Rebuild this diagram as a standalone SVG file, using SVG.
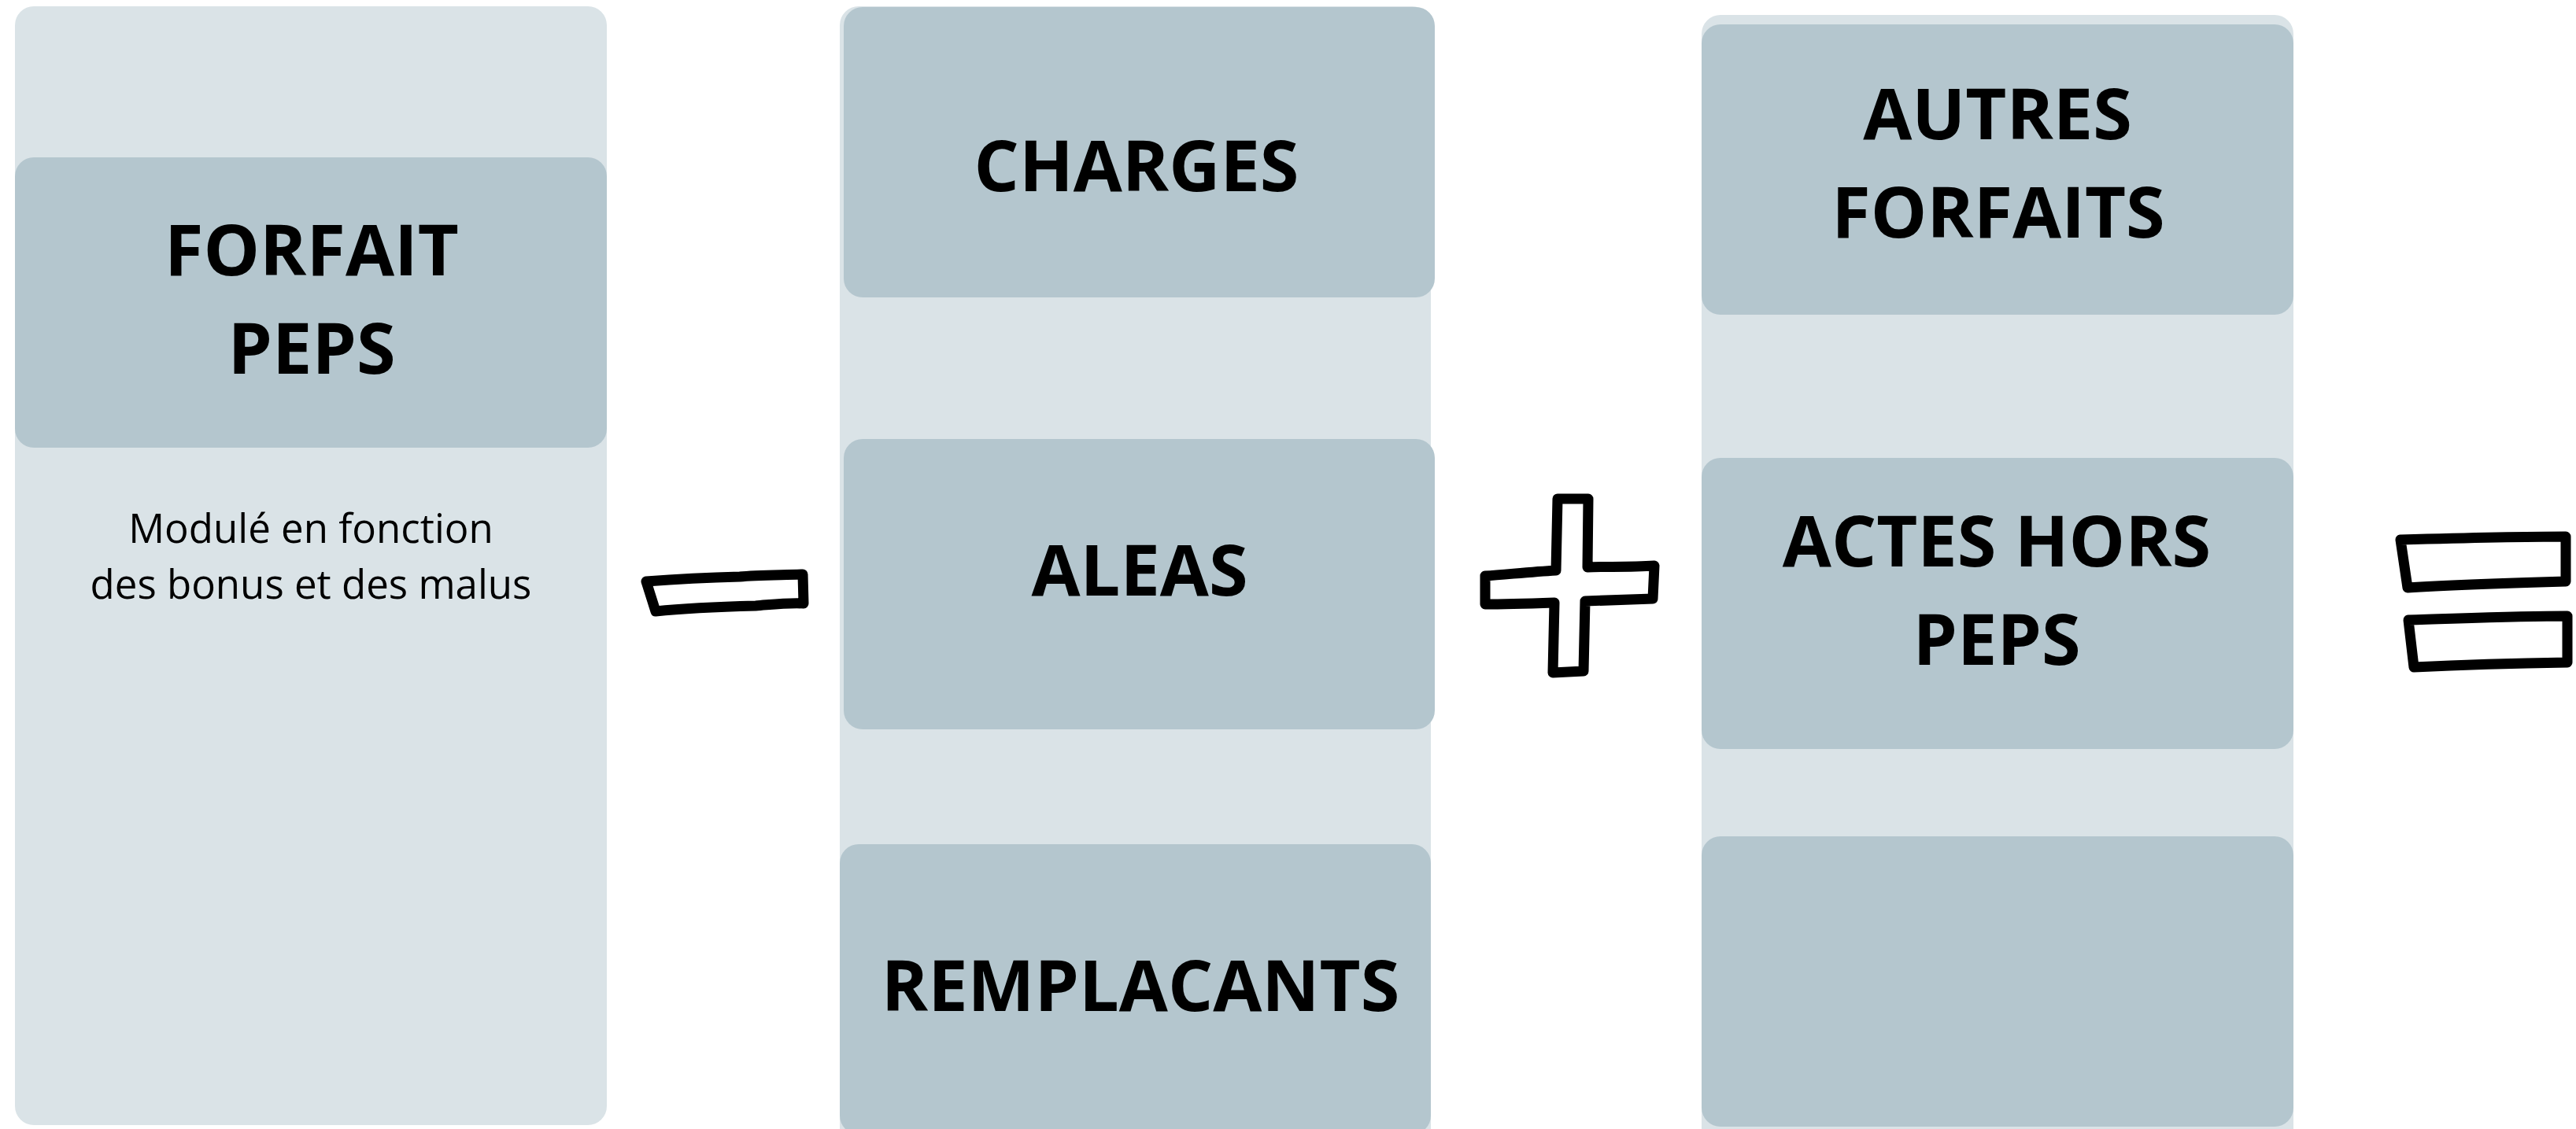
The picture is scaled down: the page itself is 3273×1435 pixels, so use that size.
<svg xmlns="http://www.w3.org/2000/svg" width="3273" height="1435" viewBox="0 0 3273 1435">
<style>
.col{fill:#dae3e7}
.box{fill:#b4c6ce}
.h{font-family:"Open Sans","Liberation Sans",sans-serif;font-weight:700;font-size:90px;fill:#000;text-anchor:middle}
.d{font-family:"Open Sans","Liberation Sans",sans-serif;font-weight:400;font-size:51px;fill:#000;text-anchor:middle}
.op{fill:none;stroke:#000;stroke-width:13;stroke-linejoin:round;stroke-linecap:round}
</style>
<rect width="3273" height="1435" fill="#fff"/>
<g id="column1">
<rect class="col" x="19" y="8" width="752" height="1422" rx="24"/>
<g id="forfait-peps">
<rect class="box" x="19" y="200" width="752" height="369" rx="24"/>
<text class="h" x="396" y="350">FORFAIT</text>
<text class="h" x="396" y="475">PEPS</text>
</g>
<text id="note" class="d" x="395" y="690">Modulé en fonction</text>
<text class="d" x="395" y="761">des bonus et des malus</text>
</g>
<g id="column2">
<rect class="col" x="1067" y="8" width="751" height="1450" rx="24"/>
<g id="charges">
<rect class="box" x="1072" y="9" width="751" height="369" rx="24"/>
<text class="h" x="1444" y="243">CHARGES</text>
</g>
<g id="aleas">
<rect class="box" x="1072" y="558" width="751" height="369" rx="24"/>
<text class="h" x="1448" y="757">ALEAS</text>
</g>
<g id="remplacants">
<rect class="box" x="1067" y="1073" width="751" height="369" rx="24"/>
<text class="h" x="1449" y="1285">REMPLACANTS</text>
</g>
</g>
<g id="column3">
<rect class="col" x="2162" y="19" width="752" height="1440" rx="24"/>
<g id="autres-forfaits">
<rect class="box" x="2162" y="31" width="752" height="369" rx="24"/>
<text class="h" x="2538" y="177">AUTRES</text>
<text class="h" x="2539" y="302">FORFAITS</text>
</g>
<g id="actes-hors-peps">
<rect class="box" x="2162" y="582" width="752" height="370" rx="24"/>
<text class="h" x="2537" y="720">ACTES HORS</text>
<text class="h" x="2537" y="845">PEPS</text>
</g>
<g id="empty">
<rect class="box" x="2162" y="1063" width="752" height="369" rx="24"/>
</g>
</g>
<g id="connectors">
<path id="minus" class="op" d="M821,739 C860,736 900,734 940,733 C960,731 990,731 1020,730 L1021,767 C1000,766 985,768 960,770 C920,771 880,772 833,777 Z"/>
<path id="plus" class="op" d="M1979,634 L2018,634 L2017,721 C2040,720 2070,721 2102,719 L2100,761 L2014,764 L2012,853 L1973,855 L1975,766 C1945,767 1915,768 1887,768 L1887,732 C1915,730 1945,727 1977,725 Z"/>
<path id="equals-top" class="op" d="M3050,686 C3120,684 3190,682 3260,682 L3260,739 C3190,741 3120,743 3059,747 Z"/>
<path id="equals-bottom" class="op" d="M3060,788 C3130,786 3200,783 3262,783 L3262,842 C3200,843 3130,845 3067,848 Z"/>
</g>
</svg>
